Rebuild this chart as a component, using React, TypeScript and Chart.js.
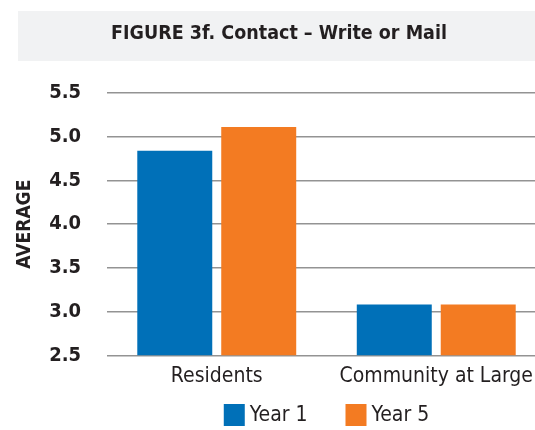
import React, { useEffect, useRef } from "react";
import { Chart, registerables } from "chart.js";

Chart.register(...registerables);

const categories = ["Residents", "Community at Large"];
const year1 = [4.84, 3.08];
const year5 = [5.11, 3.08];
const seriesNames = ["Year 1", "Year 5"];
const yMin = 2.5;
const yMax = 5.5;
const yStep = 0.5;
const titleText = "FIGURE 3f. Contact \u2013 Write or Mail";
const yTitle = "AVERAGE";

const FONT = "'DejaVu Sans Condensed', 'Liberation Sans Narrow', sans-serif";
const TEXT = "#231f20";

const titleBand = {
  id: "titleBand",
  beforeDraw(chart: any) {
    const ctx = chart.ctx;
    ctx.save();
    ctx.fillStyle = "#f1f2f3";
    ctx.fillRect(10, 3, chart.width - 10, 50);
    ctx.fillStyle = TEXT;
    ctx.font = `bold 19.5px ${FONT}`;
    ctx.textAlign = "center";
    ctx.textBaseline = "alphabetic";
    ctx.fillText(titleText, 271, 31);
    ctx.restore();
  },
};

const customLegend = {
  id: "customLegend",
  afterDraw(chart: any) {
    const ctx = chart.ctx;
    const area = chart.chartArea;
    const box = 21;
    const textGap = 5;
    const itemGap = 38;
    ctx.save();
    ctx.font = `21px ${FONT}`;
    const items = chart.data.datasets.map((ds: any) => ({
      label: ds.label,
      color: ds.backgroundColor,
      w: box + textGap + ctx.measureText(ds.label).width,
    }));
    const total = items.reduce((s: number, it: any) => s + it.w, 0) + itemGap * (items.length - 1);
    let x = (area.left + area.right) / 2 - total / 2;
    const top = 396;
    items.forEach((it: any) => {
      ctx.fillStyle = it.color;
      ctx.fillRect(x, top, box, box + 1);
      ctx.fillStyle = TEXT;
      ctx.textAlign = "left";
      ctx.textBaseline = "middle";
      ctx.fillText(it.label, x + box + textGap, top + box / 2 + 1);
      x += it.w + itemGap;
    });
    ctx.restore();
  },
};

export default function App() {
  const ref = useRef<HTMLCanvasElement>(null);
  useEffect(() => {
    if (!ref.current) return;
    const chart = new Chart(ref.current, {
      type: "bar",
      data: {
        labels: categories,
        datasets: [
          { label: seriesNames[0], data: year1, backgroundColor: "#0070b8", categoryPercentage: 0.765, barPercentage: 0.893 },
          { label: seriesNames[1], data: year5, backgroundColor: "#f37b22", categoryPercentage: 0.765, barPercentage: 0.893 },
        ],
      },
      options: {
        animation: false,
        responsive: false,
        maintainAspectRatio: false,
        layout: { padding: { top: 85, right: 7, left: 0, bottom: 32.3 } },
        plugins: {
          tooltip: { enabled: false },
          legend: { display: false },
        },
        scales: {
          x: {
            grid: { display: false, drawTicks: false },
            border: { display: false },
            ticks: { color: TEXT, font: { family: FONT, size: 21, lineHeight: 1.4 }, padding: 6.5 },
          },
          y: {
            min: yMin,
            max: yMax,
            afterFit(scale: any) {
              scale.width = 99;
            },
            ticks: {
              stepSize: yStep,
              color: TEXT,
              padding: 26,
              font: { family: FONT, size: 20, weight: "bold" },
              callback: (v: any) => Number(v).toFixed(1),
            },
            grid: { color: "#939393", lineWidth: 1.5, drawTicks: false },
            border: { display: false },
            title: {
              display: true,
              text: yTitle,
              color: TEXT,
              font: { family: FONT, size: 19, weight: "bold" },
              padding: { top: 6, bottom: 0 },
            },
          },
        },
      },
      plugins: [titleBand, customLegend],
    });
    return () => chart.destroy();
  }, []);
  return (
    <div style={{ position: "fixed", left: 8, top: 8, width: 527, height: 422, overflow: "hidden" }}>
      <canvas ref={ref} width={545} height={422} style={{ display: "block" }} />
    </div>
  );
}
